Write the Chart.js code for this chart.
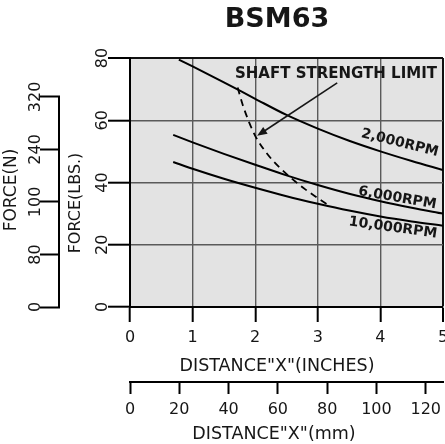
<!DOCTYPE html>
<html>
<head>
<meta charset="utf-8">
<script src="https://cdn.jsdelivr.net/npm/chart.js@4/dist/chart.umd.min.js"></script>
<style>
html, body { margin: 0; padding: 0; background: #fff; }
#wrap { width: 445px; height: 444px; }
</style>
</head>
<body>
<div id="wrap"><canvas id="chart" width="445" height="444"></canvas></div>
<script>
// distance "X" in inches, force in lbs
const x2000 = [0.78, 1.0, 1.5, 2.0, 2.5, 3.0, 3.5, 4.0, 4.5, 5.0]
const f2000 = [79.5, 77.3, 72.2, 66.9, 61.7, 57.3, 53.4, 50.0, 46.9, 44.0]
const x6000 = [0.69, 1.0, 1.5, 2.0, 2.5, 3.0, 3.5, 4.0, 4.5, 5.0]
const f6000 = [55.3, 52.9, 49.2, 45.7, 42.3, 39.2, 36.4, 34.0, 31.9, 30.0]
const x10000 = [0.69, 1.0, 1.5, 2.0, 2.5, 3.0, 3.5, 4.0, 4.5, 5.0]
const f10000 = [46.6, 44.4, 41.2, 38.3, 35.6, 33.2, 31.0, 29.1, 27.5, 26.1]
const xShaft = [1.72, 1.8, 1.9, 2.0, 2.2, 2.4, 2.6, 2.8, 3.0, 3.2]
const fShaft = [70.5, 65.0, 59.5, 55.0, 49.0, 44.6, 41.0, 37.8, 35.0, 32.3]

const curveNames = ['2,000RPM', '6,000RPM', '10,000RPM']
const limitName = 'SHAFT STRENGTH LIMIT'

// axes
const inchTicks = [0, 1, 2, 3, 4, 5]
const lbsTicks = [0, 20, 40, 60, 80]
const mmTicks = [0, 20, 40, 60, 80, 100, 120]
const newtonTicks = [0, 80, 160, 240, 320]
const newtonLabels = ['0', '80', '100', '240', '320']
const newtonPerLb = 4.74
const mmPerInch = 25.4

const FONT = 'DejaVu Sans'
const INK = '#161616'

function pairs(xs, ys) {
    return xs.map((x, i) => ({ x: x, y: ys[i] }))
}

function setTicks(list) {
    return function (scale) { scale.ticks = list.map(v => ({ value: v })) }
}

function text(ctx, str, x, y, angle, font) {
    ctx.save()
    ctx.translate(x, y)
    ctx.rotate(angle * Math.PI / 180)
    ctx.font = font
    ctx.fillStyle = INK
    ctx.textAlign = 'center'
    ctx.textBaseline = 'middle'
    ctx.fillText(str, 0, 0)
    ctx.restore()
}

const decor = {
    id: 'decor',
    beforeDraw(chart) {
        const { ctx, chartArea: a } = chart
        ctx.save()
        ctx.fillStyle = '#e3e3e3'
        ctx.fillRect(a.left, a.top, a.right - a.left, a.bottom - a.top)
        ctx.restore()
    },
    afterDatasetsDraw(chart) {
        const ctx = chart.ctx
        const sx = chart.scales.x, sy = chart.scales.y
        const px = v => sx.getPixelForValue(v)
        const py = v => sy.getPixelForValue(v)

        // curve labels
        const b = 'bold 14px "' + FONT + '"'
        text(ctx, curveNames[0], px(4.31), py(52.7), 14, b)
        text(ctx, curveNames[1], px(4.27), py(35.0), 10, b)
        text(ctx, curveNames[2], px(4.20), py(25.4), 8, b)
        text(ctx, limitName, px(3.29), py(74.8), 0, 'bold 15px "' + FONT + '"')

        // arrow to the dashed curve
        const x0 = px(3.31), y0 = py(72.0), x1 = px(2.03), y1 = py(55.0)
        const ang = Math.atan2(y1 - y0, x1 - x0)
        ctx.save()
        ctx.strokeStyle = INK
        ctx.fillStyle = INK
        ctx.lineWidth = 1.6
        ctx.beginPath()
        ctx.moveTo(x0, y0)
        ctx.lineTo(x1 - 6 * Math.cos(ang), y1 - 6 * Math.sin(ang))
        ctx.stroke()
        ctx.beginPath()
        ctx.moveTo(x1, y1)
        ctx.lineTo(x1 - 10 * Math.cos(ang) + 4 * Math.sin(ang), y1 - 10 * Math.sin(ang) - 4 * Math.cos(ang))
        ctx.lineTo(x1 - 10 * Math.cos(ang) - 4 * Math.sin(ang), y1 - 10 * Math.sin(ang) + 4 * Math.cos(ang))
        ctx.closePath()
        ctx.fill()
        ctx.restore()
    },
    afterDraw(chart) {
        const ctx = chart.ctx
        const n = chart.scales.yN

        // newton axis line only spans its ticks
        ctx.save()
        ctx.strokeStyle = '#000'
        ctx.lineWidth = 2
        ctx.beginPath()
        ctx.moveTo(n.right - 1, n.getPixelForValue(newtonTicks[0]) + 1)
        ctx.lineTo(n.right - 1, n.getPixelForValue(newtonTicks[newtonTicks.length - 1]))
        ctx.stroke()
        ctx.restore()

        text(ctx, 'BSM63', 277, 20, 0, 'bold 27px "' + FONT + '"')
        text(ctx, 'DISTANCE"X"(INCHES)', 277, 366, 0, '17.5px "' + FONT + '"')
        text(ctx, 'DISTANCE"X"(mm)', 274, 434, 0, '17.5px "' + FONT + '"')
        text(ctx, 'FORCE(LBS.)', 76, 203, -90, '16px "' + FONT + '"')
        text(ctx, 'FORCE(N)', 12, 190, -90, '17px "' + FONT + '"')
    }
}

const tickFont = { family: FONT, size: 16 }
const gridColor = c => (c.tick && (c.tick.value === 80 || c.tick.value === 5)) ? '#111' : '#5a5a5a'
const gridWidth = c => (c.tick && (c.tick.value === 80 || c.tick.value === 5)) ? 2 : 1.4
const noPadX = s => { s.paddingLeft = 0; s.paddingRight = 0 }
const noPadY = s => { s.paddingTop = 0; s.paddingBottom = 0 }

const ctx = document.getElementById('chart').getContext('2d')
const chart = new Chart(ctx, {
    type: 'line',
    data: {
        datasets: [
            { label: curveNames[0], data: pairs(x2000, f2000) },
            { label: curveNames[1], data: pairs(x6000, f6000) },
            { label: curveNames[2], data: pairs(x10000, f10000) },
            { label: limitName, data: pairs(xShaft, fShaft), borderDash: [7, 5], borderWidth: 1.8 }
        ]
    },
    options: {
        responsive: false,
        animation: false,
        layout: { padding: { top: 58, right: 2, left: 0, bottom: 0 }, autoPadding: false },
        elements: {
            point: { radius: 0 },
            line: { borderColor: '#000', borderWidth: 2, cubicInterpolationMode: 'monotone', fill: false }
        },
        plugins: { legend: { display: false }, tooltip: { enabled: false }, title: { display: false } },
        scales: {
            x: {
                type: 'linear', position: 'bottom', min: 0, max: 5,
                afterBuildTicks: setTicks(inchTicks),
                afterFit: s => { s.height = 75; noPadX(s) },
                ticks: { autoSkip: false, maxRotation: 0, padding: 6, color: INK, font: tickFont },
                grid: { color: gridColor, lineWidth: gridWidth, tickLength: 15, tickColor: '#000', tickWidth: 2 },
                border: { color: '#000', width: 2 }
            },
            mm: {
                type: 'linear', position: 'bottom', weight: 1, min: 0, max: 5 * mmPerInch,
                afterBuildTicks: setTicks(mmTicks),
                afterFit: s => { s.height = 62; noPadX(s) },
                ticks: { autoSkip: false, maxRotation: 0, padding: 6, color: INK, font: tickFont },
                grid: { drawOnChartArea: false, tickLength: 12, tickColor: '#000', tickWidth: 2 },
                border: { color: '#000', width: 2 }
            },
            y: {
                type: 'linear', position: 'left', min: 0, max: 80,
                afterBuildTicks: setTicks(lbsTicks),
                afterFit: s => { s.width = 70; noPadY(s) },
                ticks: { autoSkip: false, minRotation: 90, maxRotation: 90, crossAlign: 'center', padding: -5, color: INK, font: tickFont },
                grid: { color: gridColor, lineWidth: gridWidth, tickLength: 22, tickColor: '#000', tickWidth: 2 },
                border: { color: '#000', width: 2 }
            },
            yN: {
                type: 'linear', position: 'left', weight: 1, min: 0, max: 80 * newtonPerLb,
                afterBuildTicks: setTicks(newtonTicks),
                afterFit: s => { s.width = 60; noPadY(s) },
                ticks: {
                    autoSkip: false, minRotation: 90, maxRotation: 90, crossAlign: 'center', padding: -11,
                    color: INK, font: tickFont,
                    callback: (v, i) => newtonLabels[i]
                },
                grid: { drawOnChartArea: false, tickLength: 20, tickColor: '#000', tickWidth: 2 },
                border: { display: false }
            }
        }
    },
    plugins: [decor]
})
</script>
</body>
</html>
